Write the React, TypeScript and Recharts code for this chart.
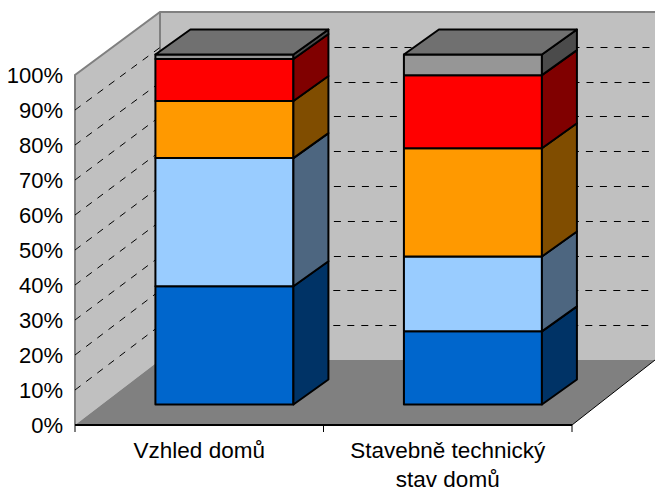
import { BarChart, Bar, XAxis, YAxis, CartesianGrid } from "recharts";

const categories = ["Vzhled domů", "Stavebně technický stav domů"];
const tickLines = [["Vzhled domů"], ["Stavebně technický", "stav domů"]];
const seriesBlue = [33.8, 20.9];
const seriesLightBlue = [36.6, 21.4];
const seriesOrange = [16.3, 30.9];
const seriesRed = [12.0, 20.9];
const seriesGray = [1.3, 5.9];
const percentTicks = [0, 10, 20, 30, 40, 50, 60, 70, 80, 90, 100];

const rows = categories.map((name, i) => ({
    name,
    blue: seriesBlue[i],
    lightBlue: seriesLightBlue[i],
    orange: seriesOrange[i],
    red: seriesRed[i],
    gray: seriesGray[i],
}));

const W = 655;
const H = 490;
// plot area of the front plane
const LEFT = 75;
const RIGHT = 572;
const TOP = 75;
const BOTTOM = 425;
// back wall
const BACK_LEFT = 160;
const BACK_TOP = 12;
const BACK_BOTTOM = 360;
// depth of the bars and where the bars stand on the floor
const BAR_DX = 35;
const BAR_DY = 25;
const SHIFT_X = 25;
const SHIFT_Y = 20.5;
const FONT = '"Liberation Sans", Arial, sans-serif';

function Block(props: any) {
    const { x, y, width, height, fill, side, top } = props;
    const fx = x + SHIFT_X;
    const fy = y - SHIFT_Y;
    const r = fx + width;
    const b = fy + height;
    return (
        <g stroke="#000" strokeWidth={2} strokeLinejoin="round">
            <rect x={fx} y={fy} width={width} height={height} fill={fill} />
            <polygon
                points={`${r},${fy} ${r + BAR_DX},${fy - BAR_DY} ${r + BAR_DX},${b - BAR_DY} ${r},${b}`}
                fill={side}
            />
            {top && (
                <polygon
                    points={`${fx},${fy} ${fx + BAR_DX},${fy - BAR_DY} ${r + BAR_DX},${fy - BAR_DY} ${r},${fy}`}
                    fill={top}
                />
            )}
        </g>
    );
}

function GridLine(props: any) {
    const { y1, index } = props;
    if (y1 <= TOP + 1 || y1 >= BOTTOM - 1) return <g key={index} />;
    // snap to the pixel grid so the dashes stay crisp
    const backY = Math.round(BACK_TOP + ((y1 - TOP) * (BACK_BOTTOM - BACK_TOP)) / (BOTTOM - TOP)) + 0.5;
    return (
        <path
            key={index}
            d={`M${LEFT},${y1} L${BACK_LEFT},${backY} L${W},${backY}`}
            fill="none"
            stroke="#000"
            strokeWidth={1}
            strokeDasharray="7 7"
        />
    );
}

function CategoryTick(props: any) {
    const { x, y, payload, index } = props;
    const band = (RIGHT - LEFT) / categories.length;
    const lines = tickLines[payload.index ?? index] || [payload.value];
    return (
        <g>
            <line x1={x - band / 2} y1={BOTTOM} x2={x - band / 2} y2={BOTTOM + 7} stroke="#000" />
            {(payload.index ?? index) === categories.length - 1 && (
                <line x1={x + band / 2} y1={BOTTOM} x2={x + band / 2} y2={BOTTOM + 7} stroke="#000" />
            )}
            {lines.map((t: string, i: number) => (
                <text key={t} x={x} y={y + 25 + i * 29} textAnchor="middle" fontSize={22.5} fontFamily={FONT} fill="#000">
                    {t}
                </text>
            ))}
        </g>
    );
}

function Walls() {
    return (
        <svg width={W} height={H} style={{ position: "absolute", left: 0, top: 0 }}>
            <polygon points={`${BACK_LEFT},${BACK_TOP} ${W},${BACK_TOP} ${W},${BACK_BOTTOM} ${BACK_LEFT},${BACK_BOTTOM}`} fill="#c0c0c0" />
            <polygon points={`${LEFT},${TOP} ${BACK_LEFT},${BACK_TOP} ${BACK_LEFT},${BACK_BOTTOM} ${LEFT},${BOTTOM}`} fill="#c0c0c0" />
            <polygon points={`${LEFT},${BOTTOM} ${RIGHT},${BOTTOM} ${W},${BACK_BOTTOM} ${BACK_LEFT},${BACK_BOTTOM}`} fill="#808080" />
            <path
                d={`M${LEFT},${BOTTOM} L${LEFT},${TOP} L${BACK_LEFT},${BACK_TOP} L${W},${BACK_TOP} M${BACK_LEFT},${BACK_TOP} L${BACK_LEFT},${BACK_BOTTOM}`}
                fill="none"
                stroke="#808080"
                strokeWidth={2}
            />
            <line x1={RIGHT} y1={BOTTOM} x2={W} y2={BACK_BOTTOM} stroke="#000" />
        </svg>
    );
}

export default function App() {
    return (
        <div style={{ position: "absolute", left: 0, top: 0, width: W, height: H }}>
            <Walls />
            <BarChart
                width={W}
                height={H}
                data={rows}
                margin={{ top: TOP, right: W - RIGHT, bottom: 0, left: 0 }}
                barCategoryGap="22.3%"
                style={{ position: "absolute", left: 0, top: 0 }}
            >
                <CartesianGrid horizontal={GridLine} vertical={false} />
                <XAxis
                    dataKey="name"
                    height={H - BOTTOM}
                    axisLine={{ stroke: "#000", strokeWidth: 2 }}
                    tickLine={false}
                    tick={CategoryTick}
                    interval={0}
                />
                <YAxis
                    width={LEFT}
                    domain={[0, 100]}
                    ticks={percentTicks}
                    tickFormatter={(v: number) => `${v}%`}
                    axisLine={false}
                    tickLine={false}
                    tick={{ fill: "#000", fontSize: 22, fontFamily: FONT }}
                    tickMargin={6}
                />
                <Bar dataKey="blue" stackId="a" fill="#0066cc" isAnimationActive={false}
                    shape={(p: any) => <Block {...p} side="#003366" />} />
                <Bar dataKey="lightBlue" stackId="a" fill="#99ccff" isAnimationActive={false}
                    shape={(p: any) => <Block {...p} side="#4d6680" />} />
                <Bar dataKey="orange" stackId="a" fill="#ff9900" isAnimationActive={false}
                    shape={(p: any) => <Block {...p} side="#804d00" />} />
                <Bar dataKey="red" stackId="a" fill="#ff0000" isAnimationActive={false}
                    shape={(p: any) => <Block {...p} side="#800000" />} />
                <Bar dataKey="gray" stackId="a" fill="#969696" isAnimationActive={false}
                    shape={(p: any) => <Block {...p} side="#4b4b4b" top="#707070" />} />
            </BarChart>
        </div>
    );
}
